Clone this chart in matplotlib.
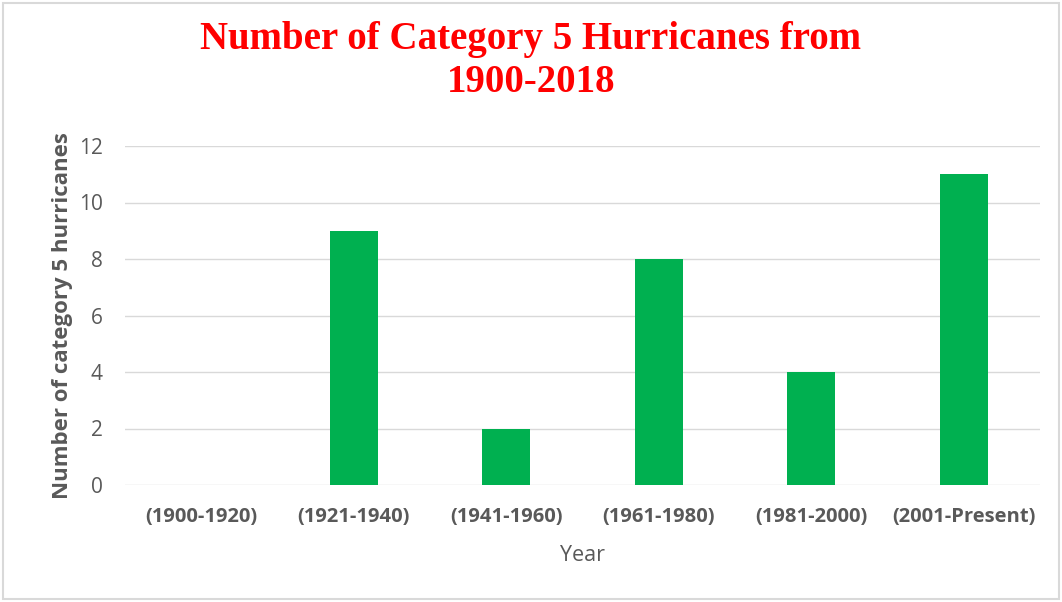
import matplotlib.pyplot as plt
from matplotlib.patches import Rectangle

periods = ["(1900-1920)", "(1921-1940)", "(1941-1960)", "(1961-1980)",
           "(1981-2000)", "(2001-Present)"]
counts = [0, 9, 2, 8, 4, 11]
yticks = [0, 2, 4, 6, 8, 10, 12]

W, H = 1062, 602
fig = plt.figure(figsize=(W / 100, H / 100), dpi=100)
ax = fig.add_axes([125 / W, 1 - 485 / H, (1040 - 125) / W, (485 - 146) / H])

x = list(range(len(periods)))
ax.bar(x, counts, width=0.315, color="#00B050", zorder=3)

ax.set_xlim(-0.5, len(periods) - 0.5)
ax.set_ylim(0, 12)
ax.set_yticks(yticks)
ax.set_xticks(x)
ax.set_xticklabels(periods, fontsize=14.5, fontweight="bold", color="#595959",
                   family="Open Sans")
for lbl in ax.get_yticklabels():
    lbl.set_fontsize(15)
    lbl.set_color("#595959")
    lbl.set_family("Open Sans")
ax.tick_params(length=0)
ax.tick_params(axis="x", pad=16)
ax.tick_params(axis="y", pad=16)
ax.grid(axis="y", color="#d9d9d9", linewidth=1, zorder=0)
for s in ax.spines.values():
    s.set_visible(False)

ax.set_xlabel("Year", fontsize=15.5, color="#595959", family="Open Sans", labelpad=13)
ax.set_ylabel("Number of category 5 hurricanes", fontsize=16, fontweight="bold",
              color="#595959", family="Open Sans", labelpad=4)

fig.text(0.5, 1 - 61 / H, "Number of Category 5 Hurricanes from\n1900-2018",
         ha="center", va="center", fontsize=28, fontweight="bold", color="#FF0000",
         family="Liberation Serif", linespacing=1.25)

fig.patches.append(Rectangle((3 / W, 3 / H), 1 - 6 / W, 1 - 6 / H, transform=fig.transFigure,
                             fill=False, edgecolor="#d9d9d9", linewidth=1.5))

fig.savefig("out.png", dpi=100)
